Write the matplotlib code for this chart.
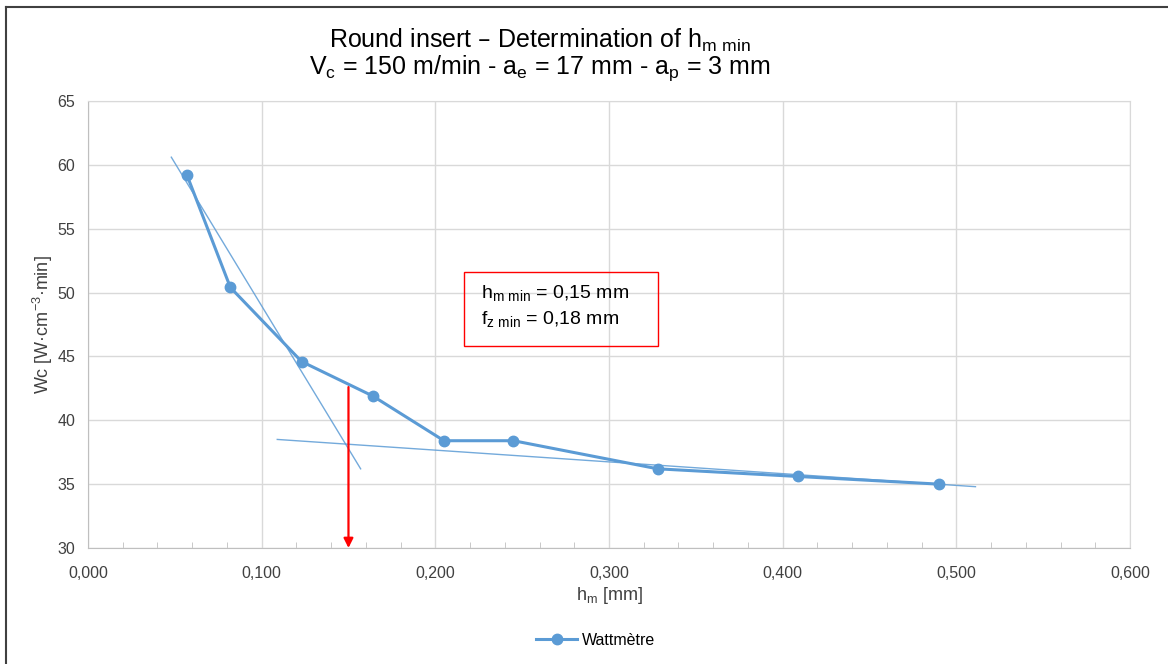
import matplotlib
matplotlib.use("Agg")
import matplotlib.pyplot as plt
from matplotlib.patches import Rectangle
from matplotlib.lines import Line2D
from matplotlib.ticker import MultipleLocator, FuncFormatter

plt.rcParams['font.family'] = ['Liberation Sans', 'DejaVu Sans']
plt.rcParams['mathtext.default'] = 'regular'

# measured points (Wattmetre)
hm = [0.057, 0.082, 0.123, 0.164, 0.205, 0.245, 0.328, 0.409, 0.490]
wc = [59.2, 50.4, 44.6, 41.9, 38.4, 38.4, 36.2, 35.6, 35.0]

# two tangent lines (start / end points)
tan1_x = [0.048, 0.157]
tan1_y = [60.6, 36.2]
tan2_x = [0.109, 0.511]
tan2_y = [38.5, 34.8]

hm_min = 0.15
arrow_top = 42.6

blue = '#5B9BD5'
grid = '#D9D9D9'

fig = plt.figure(figsize=(11.68, 6.64), dpi=100)
ax = fig.add_axes([0.0753, 0.1747, 0.8922, 0.6732])

ax.plot(tan1_x, tan1_y, color=blue, lw=1.0, alpha=0.85, zorder=3)
ax.plot(tan2_x, tan2_y, color=blue, lw=1.0, alpha=0.85, zorder=3)
ax.plot(hm, wc, color=blue, lw=2.2, marker='o', ms=7.5, zorder=4, label='Wattmètre')

ax.annotate('', xy=(hm_min, 30), xytext=(hm_min, arrow_top),
            arrowprops=dict(arrowstyle='-|>', color='#FF0000', lw=1.6,
                            mutation_scale=14, shrinkA=0, shrinkB=0), zorder=5)

# info box
ax.add_patch(Rectangle((0.2165, 45.81), 0.1117, 5.8, fill=False,
                       edgecolor='#FF0000', lw=1.0, zorder=5))
ax.text(0.2263, 49.95, 'h$_{m\\ min}$ = 0,15 mm', fontsize=14, va='center', zorder=6)
ax.text(0.2263, 47.9, 'f$_{z\\ min}$ = 0,18 mm', fontsize=14, va='center', zorder=6)

ax.set_xlim(0, 0.6)
ax.set_ylim(30, 65)
ax.xaxis.set_major_locator(MultipleLocator(0.1))
ax.xaxis.set_minor_locator(MultipleLocator(0.02))
ax.yaxis.set_major_locator(MultipleLocator(5))
ax.xaxis.set_major_formatter(FuncFormatter(lambda v, p: f'{v:.3f}'.replace('.', ',')))
ax.grid(True, which='major', color=grid, lw=1.0, zorder=0)
ax.tick_params(axis='x', which='major', length=0, labelsize=11.5, colors='#404040', pad=13)
ax.tick_params(axis='x', which='minor', length=4, direction='in', color='#BFBFBF')
ax.tick_params(axis='y', length=0, labelsize=11.5, colors='#404040', pad=9)
for s in ['top', 'right']:
    ax.spines[s].set_color(grid)
for s in ['left', 'bottom']:
    ax.spines[s].set_color('#BFBFBF')

ax.set_xlabel('h$_{m}$ [mm]', fontsize=13, color='#404040', labelpad=3)
ax.set_ylabel('Wc [W·cm$^{-3}$·min]', fontsize=13, color='#404040', labelpad=2)

fig.text(0.462, 0.939, 'Round insert – Determination of h$_{m\\ min}$',
         ha='center', va='center', fontsize=18)
fig.text(0.462, 0.897, 'V$_{c}$ = 150 m/min - a$_{e}$ = 17 mm - a$_{p}$ = 3 mm',
         ha='center', va='center', fontsize=18)

fig.legend(loc='center', bbox_to_anchor=(0.51, 0.036), frameon=False,
           fontsize=11.5, handlelength=2.6, handletextpad=0.3)

# outer chart frame (top and left)
fig.add_artist(Line2D([0.005, 1.0], [0.989, 0.989], color='#404040', lw=1.5))
fig.add_artist(Line2D([0.0055, 0.0055], [0.0, 0.989], color='#404040', lw=1.5))

fig.savefig('out.png', dpi=100)
